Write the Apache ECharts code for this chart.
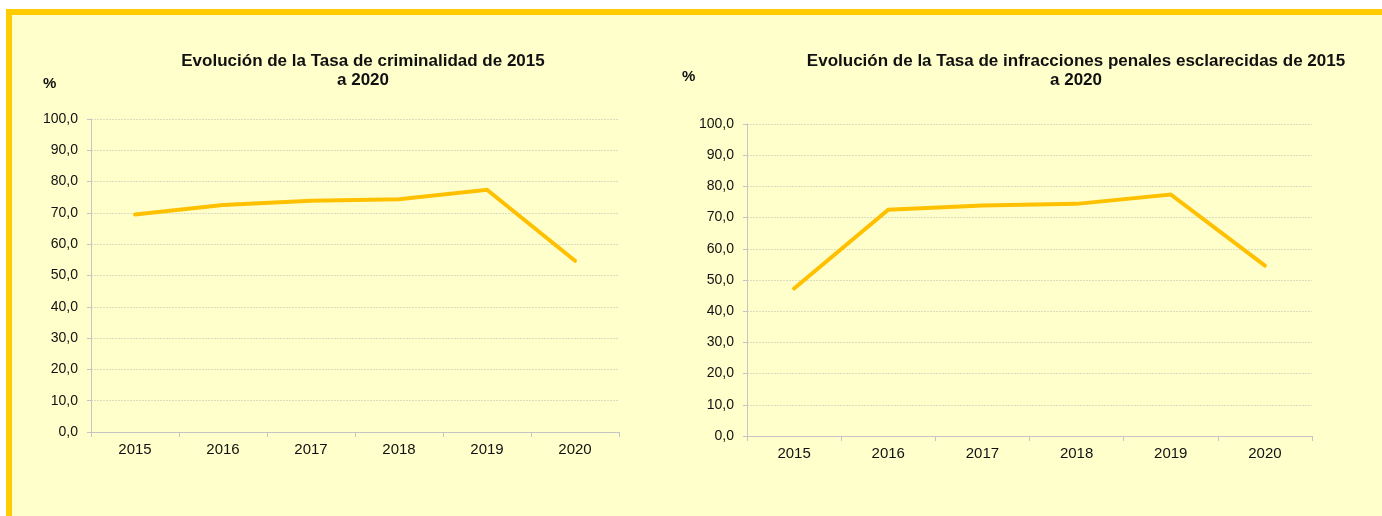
<!DOCTYPE html>
<html>
<head>
<meta charset="utf-8">
<script src="https://cdn.jsdelivr.net/npm/echarts@6/dist/echarts.min.js"></script>
<style>
  html, body { margin: 0; padding: 0; background: #ffffff; }
  #chart { width: 1382px; height: 516px; }
</style>
</head>
<body>
<div id="chart"></div>
<script>
// datos
var years = ['2015', '2016', '2017', '2018', '2019', '2020'];
var tasaCriminalidad = [69.5, 72.5, 73.9, 74.4, 77.4, 54.7];
var tasaEsclarecidas = [47.3, 72.5, 73.9, 74.4, 77.4, 54.6];
var titulo1 = 'Evolución de la Tasa de criminalidad de 2015\na 2020';
var titulo2 = 'Evolución de la Tasa de infracciones penales esclarecidas de 2015\na 2020';

var amarillo = '#FFC000';
var fuente = 'Arial, "Liberation Sans", sans-serif';

function ejeX(idx){
    return {
        type: 'category',
        gridIndex: idx,
        data: years,
        boundaryGap: true,
        axisLine: {lineStyle: {color: '#c4c4c4', width: 1}},
        axisTick: {show: true, length: 5, alignWithLabel: false, lineStyle: {color: '#c4c4c4'}},
        axisLabel: {color: '#111', fontFamily: fuente, fontSize: 15, margin: 10},
        splitLine: {show: false}
    };
}

function ejeY(idx){
    return {
        type: 'value',
        gridIndex: idx,
        min: 0,
        max: 100,
        interval: 10,
        axisLine: {show: true, lineStyle: {color: '#c4c4c4', width: 1}},
        axisTick: {show: true, length: 4, lineStyle: {color: '#c4c4c4'}},
        axisLabel: {
            color: '#111', fontFamily: fuente, fontSize: 14, margin: 13,
            formatter: function(v){ return v.toFixed(1).replace('.', ','); }
        },
        splitLine: {show: true, lineStyle: {color: '#dcdcc0', type: [2, 1], width: 1}}
    };
}

function serie(idx, datos){
    return {
        type: 'line',
        xAxisIndex: idx,
        yAxisIndex: idx,
        data: datos,
        symbol: 'none',
        lineStyle: {color: amarillo, width: 4, cap: 'round', join: 'miter'},
        animation: false
    };
}

var chart = echarts.init(document.getElementById('chart'));
chart.setOption({
    backgroundColor: '#ffffff',
    animation: false,
    graphic: [
        {type: 'rect', z: -10, shape: {x: 6, y: 9, width: 1376, height: 507}, style: {fill: '#FFCC00'}},
        {type: 'rect', z: -9, shape: {x: 12, y: 15, width: 1370, height: 501}, style: {fill: '#FFFFCC'}},
        {type: 'text', left: 43, top: 76, style: {text: '%', font: 'bold 15px ' + fuente, fill: '#111'}},
        {type: 'text', left: 682, top: 69, style: {text: '%', font: 'bold 15px ' + fuente, fill: '#111'}}
    ],
    title: [
        {
            text: titulo1, left: 358, top: 47, textAlign: 'center',
            textStyle: {fontFamily: fuente, fontWeight: 'bold', fontSize: 17, lineHeight: 19, color: '#111'}
        },
        {
            text: titulo2, left: 1071, top: 47, textAlign: 'center',
            textStyle: {fontFamily: fuente, fontWeight: 'bold', fontSize: 17, lineHeight: 19, color: '#111'}
        }
    ],
    grid: [
        {left: 91, right: 763, top: 119, bottom: 84},
        {left: 747, right: 70, top: 124, bottom: 80}
    ],
    xAxis: [ejeX(0), ejeX(1)],
    yAxis: [ejeY(0), ejeY(1)],
    series: [serie(0, tasaCriminalidad), serie(1, tasaEsclarecidas)]
});
</script>
</body>
</html>
